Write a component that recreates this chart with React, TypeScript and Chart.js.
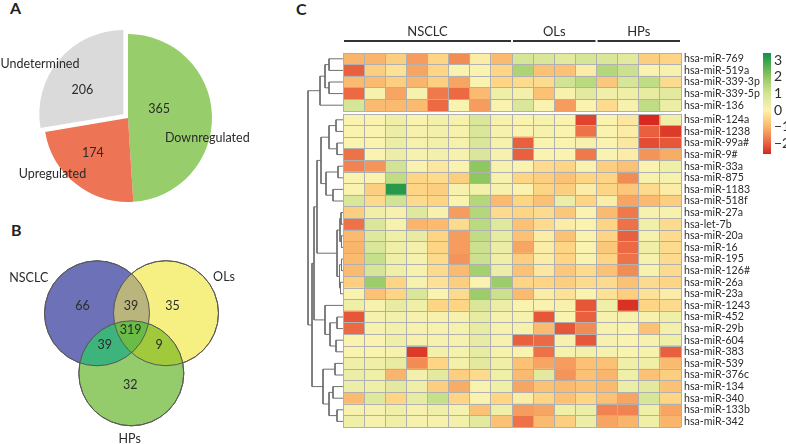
import React, { useEffect, useRef } from 'react';
import { Chart, registerables } from 'chart.js';
Chart.register(...registerables);

const FONT = 'Lato, "Open Sans", sans-serif';

// ---------- A: pie ----------
const pieLabels = ['Downregulated', 'Upregulated', 'Undetermined'];
const pieValues = [365, 174, 206];
const pieColors = ['#98cd6c', '#ee7456', '#dadada'];

// ---------- B: venn ----------
const vennSets = ['NSCLC', 'OLs', 'HPs'];
const vennRegions = ['NSCLC', 'OLs', 'HPs', 'NSCLC∩OLs', 'NSCLC∩HPs', 'OLs∩HPs', 'NSCLC∩OLs∩HPs'];
const vennCounts = [66, 35, 32, 39, 39, 9, 319];

// ---------- C: heatmap ----------
const heatGroups = ['NSCLC', 'OLs', 'HPs'];
const heatGroupSizes = [8, 4, 4];
const heatColumns = ['N1', 'N2', 'N3', 'N4', 'N5', 'N6', 'N7', 'N8', 'O1', 'O2', 'O3', 'O4', 'H1', 'H2', 'H3', 'H4'];

const heatTopRows = ['hsa-miR-769', 'hsa-miR-519a', 'hsa-miR-339-3p', 'hsa-miR-339-5p', 'hsa-miR-136'];
const heatTopValues = [
  [-1.0, -1.0, -0.6, -1.3, -0.5, -1.5, -0.1, -0.9, 0.9, 0.8, 0.6, 0.9, 0.8, 0.6, -0.6, -0.5],
  [-2.0, -0.6, -0.3, -1.2, -0.5, 0.0, 0.0, -0.5, 1.6, -0.8, -0.8, -0.1, 1.5, 1.1, 0.0, 0.1],
  [-0.9, -0.9, -0.6, -1.0, -0.6, -1.2, 0.0, -0.5, -0.4, -0.4, 1.0, 1.4, -0.7, 0.9, 1.3, -0.4],
  [-1.9, 0.1, -1.2, 0.1, -1.7, -1.9, -0.9, 0.3, 0.2, -0.8, 0.1, 0.6, 0.3, 0.3, 0.5, 0.6],
  [0.9, -0.9, -0.9, -0.9, -1.9, 0.0, -1.3, 0.0, 0.8, 0.0, -1.3, 0.0, -0.4, 0.1, 1.3, 0.4],
];

const heatBottomRows = [
  'hsa-miR-124a', 'hsa-miR-1238', 'hsa-miR-99a#', 'hsa-miR-9#', 'hsa-miR-33a', 'hsa-miR-875',
  'hsa-miR-1183', 'hsa-miR-518f', 'hsa-miR-27a', 'hsa-let-7b', 'hsa-miR-20a', 'hsa-miR-16',
  'hsa-miR-195', 'hsa-miR-126#', 'hsa-miR-26a', 'hsa-miR-23a', 'hsa-miR-1243', 'hsa-miR-452',
  'hsa-miR-29b', 'hsa-miR-604', 'hsa-miR-383', 'hsa-miR-539', 'hsa-miR-376c', 'hsa-miR-134',
  'hsa-miR-340', 'hsa-miR-133b', 'hsa-miR-342',
];
const heatBottomValues = [
  [0.0, 0.0, 0.3, 0.0, 0.2, 0.1, 0.8, 0.1, 0.0, 0.1, 0.0, -2.3, 0.0, -0.2, -2.6, 0.3],
  [0.0, 0.0, 0.4, 0.1, 0.2, 0.1, 0.8, 0.1, 0.0, 0.1, 0.0, -1.8, 0.0, -0.1, -2.0, -2.4],
  [0.0, 0.0, 0.4, 0.1, 0.2, 0.1, 0.8, 0.1, -2.0, 0.0, 0.0, 0.1, 0.0, -0.2, -2.2, -2.1],
  [-1.8, 0.0, 0.4, 0.1, 0.2, 0.1, 0.8, 0.1, -2.0, 0.0, 0.0, -1.7, 0.0, -0.1, -1.4, -1.1],
  [-1.6, -1.4, 1.0, 0.0, -0.2, 0.0, 2.0, 0.1, 0.0, -0.4, -0.5, 0.0, -0.6, -0.8, 0.0, 0.3],
  [0.0, 0.0, 1.3, -0.5, -0.4, -0.6, 2.0, 0.1, -0.5, -0.6, -0.8, -0.5, -0.5, -1.5, 0.1, 0.1],
  [0.0, -0.6, 3.2, -0.5, -0.6, 0.1, 0.2, 0.1, 0.0, -0.5, -0.6, -0.1, -0.5, -0.7, -0.4, -0.1],
  [0.8, -0.4, 1.0, -0.4, -0.5, 0.0, 1.5, -0.9, -0.5, -0.8, 0.4, -0.5, -0.1, -1.2, -0.9, -0.6],
  [-0.6, 0.3, 0.1, 0.7, 0.1, -1.3, 1.5, -0.4, -0.5, -0.4, -0.7, 0.0, -0.9, -1.7, 0.1, 0.1],
  [-1.8, 0.8, 0.1, -1.0, -0.9, -0.4, 1.4, 0.7, -0.8, -0.4, -0.1, 0.0, -0.5, -1.8, 0.3, -0.4],
  [-0.9, 0.7, 0.3, 0.5, -0.5, -1.3, 1.3, 0.5, -0.8, -0.1, -0.8, 0.0, -0.5, -2.0, 0.1, -0.4],
  [-1.0, 0.8, 0.3, 0.2, -0.5, -1.3, 1.1, 0.4, -1.2, -0.1, -0.5, 0.0, -0.7, -1.9, 0.3, -0.4],
  [-0.9, 1.2, 0.3, 0.1, -0.4, -1.4, 1.1, 0.3, -0.6, -0.1, -0.5, 0.0, -0.5, -1.8, 0.1, -0.4],
  [-0.9, 0.9, 0.3, 0.1, -0.4, -0.9, 1.7, 0.4, -0.8, -0.2, -0.7, -0.4, -0.8, -1.5, 0.1, -0.4],
  [-0.6, 1.8, -0.5, 0.1, -0.3, -0.6, 0.0, 1.8, -0.5, -0.5, -0.6, -0.4, -0.4, -0.8, -0.4, -0.5],
  [0.0, -0.8, -0.5, 0.8, 0.0, -0.4, 1.8, 1.1, -0.9, -0.1, -0.3, 0.0, -0.3, -0.6, -0.3, -0.1],
  [0.3, 0.1, 0.5, 0.3, -0.5, -0.5, 0.8, 0.4, 0.0, 0.0, 0.1, -2.1, 0.3, -2.5, -0.5, -0.4],
  [-2.1, 0.1, 0.2, 0.1, 0.1, 0.1, 0.5, 0.1, 0.1, -2.1, 0.0, -2.0, 0.1, 0.1, 0.1, 0.3],
  [-1.9, 0.1, 0.2, 0.1, 0.1, 0.1, 0.5, 0.1, 0.1, -0.9, -2.1, -1.5, 0.1, 0.0, -0.8, 0.2],
  [0.0, 0.0, 0.3, 0.1, 0.1, 0.1, 0.5, 0.1, -2.0, -1.9, 0.1, -2.1, 0.1, 0.0, 0.1, 0.3],
  [0.0, 0.0, 0.1, -2.4, 0.2, 0.1, 0.5, 0.1, 0.0, -1.8, 0.1, 0.2, 0.1, 0.0, 0.1, -2.0],
  [0.3, 0.3, 0.5, -1.5, -0.5, 0.2, 0.6, 0.3, -0.8, -1.2, -1.3, -0.8, -0.8, 0.3, 0.3, -0.9],
  [0.4, 0.3, -1.0, 0.2, 0.6, -0.6, -0.4, 0.3, -0.9, 0.6, -1.4, -0.8, -1.0, 0.3, -0.8, -0.6],
  [0.4, 0.3, 0.6, 0.3, -0.6, -1.1, 0.0, 0.3, -1.2, -0.8, -0.9, -0.8, -0.9, 0.4, 0.6, -0.8],
  [-0.9, 0.7, -0.5, 0.5, 1.2, -0.5, 0.0, -0.5, -0.1, -0.5, -0.8, -0.5, -0.8, -1.2, 0.9, -0.5],
  [0.1, 0.1, 0.3, 0.1, 0.3, 0.1, -0.8, 0.3, -1.3, -1.2, 0.3, 0.4, -1.6, -1.6, 0.3, -1.2],
  [0.3, 0.1, 0.3, 0.1, 0.1, 0.2, 0.6, -0.8, -1.8, -0.9, -0.6, 0.4, -1.2, -1.0, 0.3, -1.0],
];

// dendrogram: [left, right, height]; leaves = global row index (0-4 top block, 5-31 bottom block)
const dendroTree: any = [
  [[[0, 1, 14], [2, 3, 14], 18], 4, 23],
  [
    [
      [
        [[[5, 6, 7], [7, 8, 6], 14], [[9, 10, 5], [11, 12, 10], 17], 22],
        [[[13, 14, 2], [15, 16, 1.5], 3], [[17, 18, 1.5], [19, 20, 2.5], 3.5], 6],
        26,
      ],
      [21, [[22, 23, 6], [24, 25, 7], 13], 18],
      29,
    ],
    [[26, 27, 8], [[28, 29, 10], [30, 31, 6], 14], 20],
    31,
  ],
  35,
];

const colorbarTicks = [3, 2, 1, 0, -1, -2];
const colorStops: [number, string][] = [
  [-2.62, '#d7261e'],
  [-2.0, '#e9603f'],
  [-1.5, '#f28c55'],
  [-1.0, '#f9b56c'],
  [-0.5, '#fdd585'],
  [0.0, '#faf3b0'],
  [0.5, '#e8eca3'],
  [1.0, '#d1e495'],
  [1.5, '#b4d77b'],
  [2.0, '#8dc75e'],
  [3.42, '#139147'],
];

// ---------- layout / style constants ----------
const ROW_H = 11.6;
const HEAT_LEFT = 343;
const HEAT_W = 338;
const LABEL_W = 100;
const HEAT_TOP = 53;
const GAP_PX = 3;
const GRID = '#b0b0b0';
const TEXT = '#2b2b2b';

const PIE_NUM_POS = [[0.371, -0.107], [-0.419, 0.417], [-0.542, -0.333]];
const PIE_NAME_POS = [[0.944, 0.238], [-0.9, 0.667], [-1.048, -0.643]];

const VENN_CIRCLES = [
  { x: 97, y: 313.3 },
  { x: 166, y: 313.2 },
  { x: 131.3, y: 373.3 },
];
const VENN_R = 52.5;
const VENN_FILL = ['#6d71b7', '#f6ef82', '#94cc6c'];
const VENN_INTER = { NO: '#bab47d', NH: '#3cb47b', OH: '#a1c93c', NOH: '#69bc46' };
const VENN_COUNT_POS = [
  [82.5, 305.7], [172.5, 305.7], [130.3, 385], [131, 305.7], [104.7, 345], [159, 345], [130.7, 330],
];
const VENN_SET_POS = [[28.8, 277.7], [224, 277], [129.7, 439]];

function hexToRgb(h: string) {
  const n = parseInt(h.slice(1), 16);
  return [(n >> 16) & 255, (n >> 8) & 255, n & 255];
}
function cellColor(v: number) {
  const s = colorStops;
  if (v <= s[0][0]) return s[0][1];
  if (v >= s[s.length - 1][0]) return s[s.length - 1][1];
  for (let i = 0; i < s.length - 1; i++) {
    const [v0, c0] = s[i];
    const [v1, c1] = s[i + 1];
    if (v >= v0 && v <= v1) {
      const t = (v - v0) / (v1 - v0);
      const a = hexToRgb(c0), b = hexToRgb(c1);
      const m = a.map((x, k) => Math.round(x + (b[k] - x) * t));
      return `rgb(${m[0]},${m[1]},${m[2]})`;
    }
  }
  return s[0][1];
}

const noScalePad = (s: any) => {
  s.paddingTop = 0;
  s.paddingBottom = 0;
  s.paddingLeft = 0;
  s.paddingRight = 0;
};

// ---------- chart configs ----------
const pieLabelPlugin = {
  id: 'pieLabels',
  afterDatasetsDraw(chart: any) {
    const arc = chart.getDatasetMeta(0).data[0];
    const cx = arc.x, cy = arc.y, R = arc.outerRadius;
    const ctx = chart.ctx;
    ctx.save();
    ctx.font = `12.5px ${FONT}`;
    ctx.fillStyle = TEXT;
    ctx.textAlign = 'center';
    ctx.textBaseline = 'middle';
    pieValues.forEach((v, i) => ctx.fillText(String(v), cx + PIE_NUM_POS[i][0] * R, cy + PIE_NUM_POS[i][1] * R));
    pieLabels.forEach((l, i) => ctx.fillText(l, cx + PIE_NAME_POS[i][0] * R, cy + PIE_NAME_POS[i][1] * R));
    ctx.restore();
  },
};

function pieConfig(): any {
  return {
    type: 'pie',
    data: {
      labels: pieLabels,
      datasets: [{ data: pieValues, backgroundColor: pieColors, borderWidth: 0, offset: [0, 0, 24] }],
    },
    options: {
      animation: false,
      responsive: false,
      events: [],
      radius: 84,
      layout: { padding: 0 },
      plugins: { legend: { display: false }, tooltip: { enabled: false } },
    },
    plugins: [pieLabelPlugin],
  };
}

const vennPlugin = {
  id: 'vennRegions',
  afterDatasetsDraw(chart: any) {
    const ctx = chart.ctx;
    const pts = chart.getDatasetMeta(0).data.map((p: any) => ({ x: p.x, y: p.y, r: p.options.radius }));
    const circle = (p: any) => { ctx.beginPath(); ctx.arc(p.x, p.y, p.r, 0, Math.PI * 2); };
    const inter = (idx: number[], color: string) => {
      ctx.save();
      idx.forEach((i) => { circle(pts[i]); ctx.clip(); });
      ctx.fillStyle = color;
      ctx.fillRect(0, 0, chart.width, chart.height);
      ctx.restore();
    };
    inter([0, 1], VENN_INTER.NO);
    inter([0, 2], VENN_INTER.NH);
    inter([1, 2], VENN_INTER.OH);
    inter([0, 1, 2], VENN_INTER.NOH);
    ctx.save();
    ctx.strokeStyle = '#585858';
    ctx.lineWidth = 1;
    pts.forEach((p: any) => { circle(p); ctx.stroke(); });
    const sx = chart.scales.x, sy = chart.scales.y;
    ctx.font = `12.5px ${FONT}`;
    ctx.fillStyle = TEXT;
    ctx.textAlign = 'center';
    ctx.textBaseline = 'middle';
    vennCounts.forEach((c, i) =>
      ctx.fillText(String(c), sx.getPixelForValue(VENN_COUNT_POS[i][0]), sy.getPixelForValue(VENN_COUNT_POS[i][1])));
    vennSets.forEach((s, i) =>
      ctx.fillText(s, sx.getPixelForValue(VENN_SET_POS[i][0]), sy.getPixelForValue(VENN_SET_POS[i][1])));
    ctx.restore();
  },
};

function vennConfig(): any {
  return {
    type: 'bubble',
    data: {
      labels: vennRegions,
      datasets: [{
        data: VENN_CIRCLES.map((c) => ({ x: c.x, y: c.y, r: VENN_R })),
        backgroundColor: VENN_FILL,
        borderColor: '#585858',
        borderWidth: 1,
        clip: false,
      }],
    },
    options: {
      animation: false,
      responsive: false,
      events: [],
      layout: { padding: 0, autoPadding: false },
      plugins: { legend: { display: false }, tooltip: { enabled: false } },
      scales: {
        x: { display: false, min: 0, max: 300 },
        y: { display: false, min: 220, max: 444, reverse: true },
      },
    },
    plugins: [vennPlugin],
  };
}

const headerPlugin = {
  id: 'groupHeader',
  afterDraw(chart: any) {
    const { ctx, chartArea, scales } = chart;
    let start = 0;
    ctx.save();
    heatGroups.forEach((g, k) => {
      const end = start + heatGroupSizes[k];
      const x0 = scales.x.getPixelForValue(start) + 1;
      const x1 = scales.x.getPixelForValue(end) - 1;
      ctx.strokeStyle = '#333';
      ctx.lineWidth = 2;
      ctx.beginPath();
      ctx.moveTo(x0, chartArea.top - 12);
      ctx.lineTo(x1, chartArea.top - 12);
      ctx.stroke();
      ctx.font = `13px ${FONT}`;
      ctx.fillStyle = TEXT;
      ctx.textAlign = 'center';
      ctx.textBaseline = 'middle';
      ctx.fillText(g, (x0 + x1) / 2, chartArea.top - 21);
      start = end;
    });
    ctx.restore();
  },
};

function heatConfig(rows: string[], values: number[][], padTop: number, padBottom: number, withHeader: boolean): any {
  const nCols = heatColumns.length;
  const datasets = heatColumns.map((c, j) => ({
    label: c,
    data: rows.map(() => [j, j + 1]),
    backgroundColor: values.map((r) => cellColor(r[j])),
    borderWidth: 0,
    grouped: false,
    barPercentage: 1,
    categoryPercentage: 1,
  }));
  return {
    type: 'bar',
    data: { labels: rows, datasets },
    options: {
      indexAxis: 'y',
      animation: false,
      responsive: false,
      events: [],
      layout: { padding: { left: 1, right: 0, top: padTop, bottom: padBottom }, autoPadding: false },
      plugins: { legend: { display: false }, tooltip: { enabled: false } },
      scales: {
        x: {
          type: 'linear', min: 0, max: nCols,
          ticks: { display: false, stepSize: 1 },
          grid: { color: GRID, drawTicks: false, lineWidth: 1, z: 1 },
          border: { display: false },
          afterFit: (s: any) => { s.height = 0; noScalePad(s); },
        },
        y: {
          type: 'category', position: 'right', offset: true,
          grid: { color: GRID, drawTicks: false, offset: true, lineWidth: 1, z: 1 },
          border: { display: false },
          ticks: { font: { family: FONT, size: 10.6 }, color: TEXT, padding: 3, autoSkip: false },
          afterFit: (s: any) => { s.width = LABEL_W; noScalePad(s); },
        },
      },
    },
    plugins: withHeader ? [headerPlugin] : [],
  };
}

const GAP_ROWS = GAP_PX / ROW_H;
function rowPos(i: number) {
  return i < heatTopRows.length ? i + 0.5 : heatTopRows.length + GAP_ROWS + (i - heatTopRows.length) + 0.5;
}
function dendroConfig(heightPx: number): any {
  const segs: any[] = [];
  const walk = (node: any): { y: number; h: number } => {
    if (typeof node === 'number') return { y: rowPos(node), h: 0 };
    const a = walk(node[0]);
    const b = walk(node[1]);
    const h = node[2];
    segs.push([{ x: a.h, y: a.y }, { x: h, y: a.y }, { x: h, y: b.y }, { x: b.h, y: b.y }]);
    return { y: (a.y + b.y) / 2, h };
  };
  walk(dendroTree);
  return {
    type: 'scatter',
    data: {
      datasets: segs.map((d) => ({
        data: d, showLine: true, borderColor: '#6f6f6f', borderWidth: 1, pointRadius: 0, tension: 0, fill: false, clip: false,
      })),
    },
    options: {
      animation: false,
      responsive: false,
      events: [],
      layout: { padding: 0, autoPadding: false },
      plugins: { legend: { display: false }, tooltip: { enabled: false } },
      scales: {
        x: { type: 'linear', display: false, min: 0, max: 43, reverse: true },
        y: { type: 'linear', display: false, min: 0, max: heightPx / ROW_H, reverse: true },
      },
    },
  };
}

function colorbarConfig(): any {
  const yMin = colorStops[0][0];
  const yMax = colorStops[colorStops.length - 1][0];
  return {
    type: 'bar',
    data: {
      labels: ['scale'],
      datasets: [{
        data: [[yMin, yMax]],
        barPercentage: 1,
        categoryPercentage: 1,
        borderWidth: 0,
        backgroundColor: (c: any) => {
          const chart = c.chart;
          const y = chart.scales.y;
          if (!chart.chartArea || !y) return colorStops[5][1];
          const g = chart.ctx.createLinearGradient(0, y.getPixelForValue(yMin), 0, y.getPixelForValue(yMax));
          colorStops.forEach(([v, col]) => g.addColorStop((v - yMin) / (yMax - yMin), col));
          return g;
        },
      }],
    },
    options: {
      animation: false,
      responsive: false,
      events: [],
      layout: { padding: { left: 8, top: 8, bottom: 8, right: 0 }, autoPadding: false },
      plugins: { legend: { display: false }, tooltip: { enabled: false } },
      scales: {
        x: { display: false },
        y: {
          position: 'right', min: yMin, max: yMax,
          afterBuildTicks: (s: any) => { s.ticks = colorbarTicks.map((v) => ({ value: v })); },
          ticks: {
            font: { family: FONT, size: 14 }, color: TEXT, padding: 3, autoSkip: false,
            callback: (v: number) => (v < 0 ? '\u2212' + Math.abs(v) : String(v)),
          },
          grid: { display: false, drawTicks: false },
          border: { display: false },
          afterFit: (s: any) => { s.width = 29; noScalePad(s); },
        },
      },
    },
  };
}

function ChartBox(props: { left: number; top: number; width: number; height: number; make: () => any }) {
  const ref = useRef<HTMLCanvasElement>(null);
  useEffect(() => {
    const chart = new Chart(ref.current as HTMLCanvasElement, props.make());
    return () => chart.destroy();
  }, []);
  const { left, top, width, height } = props;
  return (
    <canvas
      ref={ref}
      width={width}
      height={height}
      style={{ position: 'absolute', left, top, width, height, display: 'block' }}
    />
  );
}

const letterStyle = (left: number, top: number): any => ({
  position: 'absolute', left, top, font: `bold 16px ${FONT}`, lineHeight: '16px', color: '#222',
});

export default function App() {
  useEffect(() => {
    document.body.style.margin = '0';
    document.body.style.overflow = 'hidden';
  }, []);

  const topRowsH = heatTopRows.length * ROW_H;
  const botRowsH = heatBottomRows.length * ROW_H;
  const topCanvasTop = 20;
  const topPad = HEAT_TOP - topCanvasTop;
  const topCanvasH = Math.ceil(topPad + topRowsH + 1);
  const botTop = HEAT_TOP + topRowsH + GAP_PX;
  const botCanvasTop = Math.floor(botTop) - 1;
  const botPad = botTop - botCanvasTop;
  const botCanvasH = Math.ceil(botPad + botRowsH + 1);
  const dendroH = topRowsH + GAP_PX + botRowsH;

  return (
    <div style={{ position: 'fixed', left: 0, top: 0, width: 786, height: 444, overflow: 'hidden', background: '#fff' }}>
      <div style={letterStyle(10, 0)}>A</div>
      <div style={letterStyle(11, 222)}>B</div>
      <div style={letterStyle(296, 1)}>C</div>
      <ChartBox left={0} top={0} width={256} height={236} make={pieConfig} />
      <ChartBox left={0} top={220} width={300} height={224} make={vennConfig} />
      <ChartBox left={300} top={HEAT_TOP} width={43} height={Math.ceil(dendroH)} make={() => dendroConfig(Math.ceil(dendroH))} />
      <ChartBox
        left={HEAT_LEFT - 1} top={topCanvasTop} width={1 + HEAT_W + LABEL_W} height={topCanvasH}
        make={() => heatConfig(heatTopRows, heatTopValues, topPad, topCanvasH - topPad - topRowsH, true)}
      />
      <ChartBox
        left={HEAT_LEFT - 1} top={botCanvasTop} width={1 + HEAT_W + LABEL_W} height={botCanvasH}
        make={() => heatConfig(heatBottomRows, heatBottomValues, botPad, botCanvasH - botPad - botRowsH, false)}
      />
      <ChartBox left={755} top={45} width={45} height={117} make={colorbarConfig} />
    </div>
  );
}
